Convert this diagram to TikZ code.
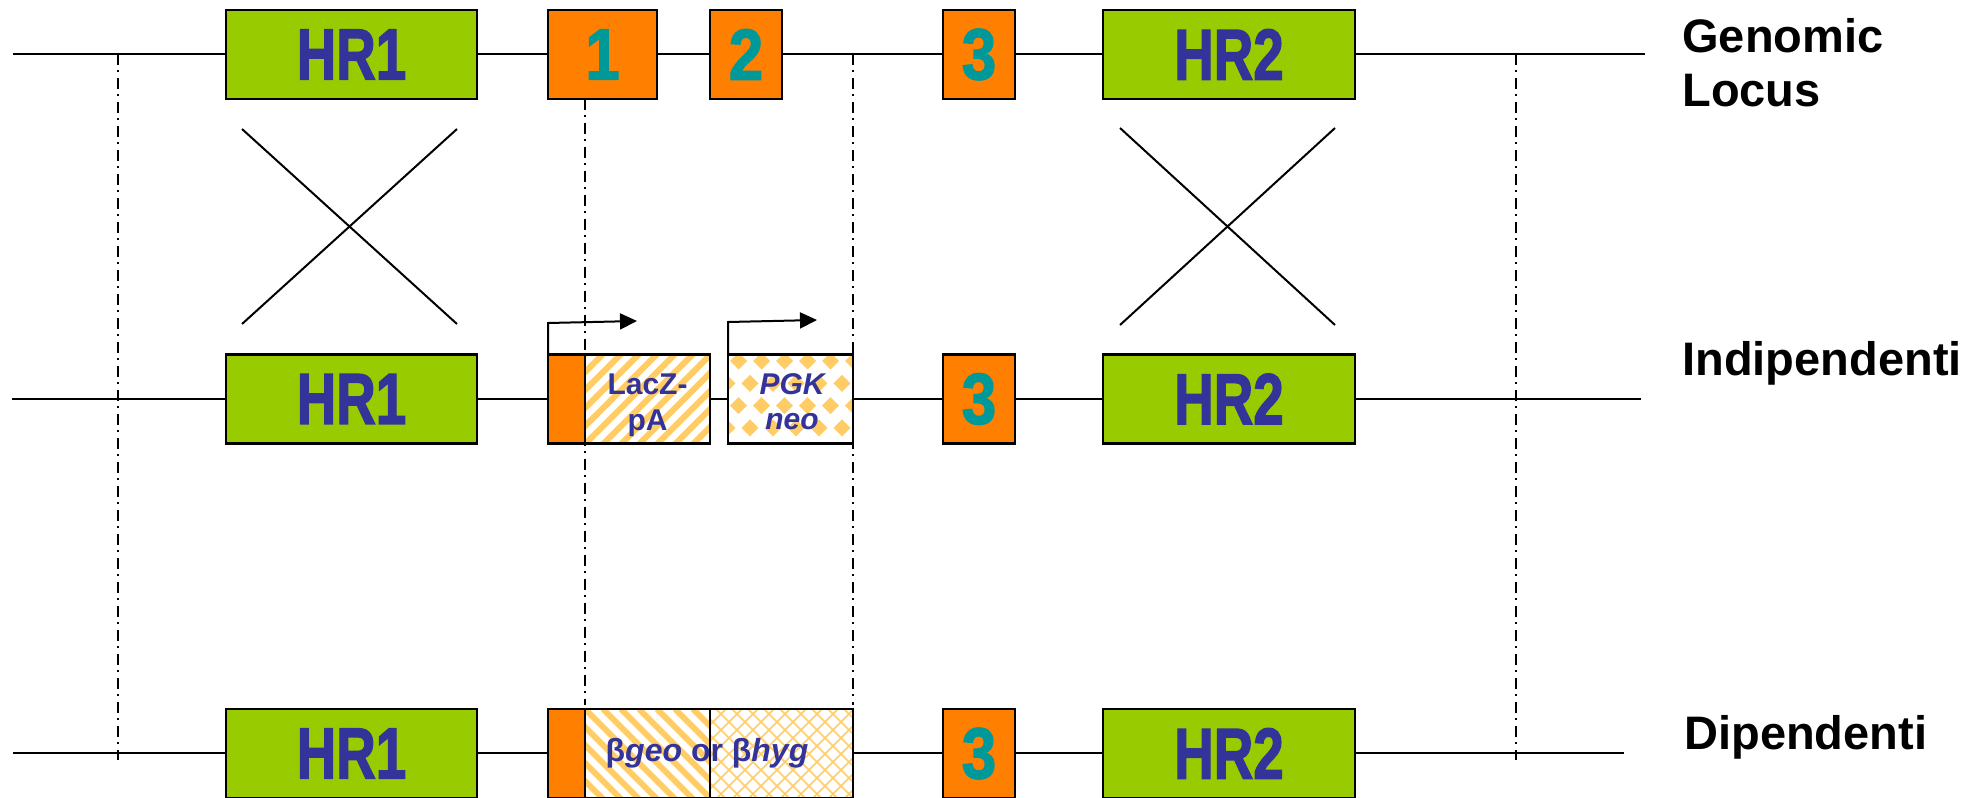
\documentclass[tikz,border=0pt]{standalone}
\usepackage{fontspec}
\usepackage{graphicx}
\setmainfont{Liberation Sans}
\newfontface\heavyface{Liberation Sans Bold}[FakeBold=2.2]
\usetikzlibrary{arrows.meta}

\definecolor{hrgreen}{HTML}{99CC00}
\definecolor{exorange}{HTML}{FF8000}
\definecolor{exteal}{HTML}{009999}
\definecolor{navy}{HTML}{333399}
\definecolor{hatchor}{HTML}{FFCC66}

\newcommand\bigfont{\heavyface\fontsize{36pt}{36pt}\selectfont}
\newcommand\hrtext[1]{\scalebox{0.76}[1]{#1}}
\newcommand\extext[1]{\scalebox{0.86}[1]{#1}}

\begin{document}
\begin{tikzpicture}[x=0.5pt,y=-0.5pt,
  box/.style={draw=black, line width=1.1pt, inner sep=0pt, outer sep=0pt, minimum height=44.5pt},
  hrbox/.style={box, fill=hrgreen, minimum width=125.5pt, text=navy, font=\bigfont},
  exbox/.style={box, fill=exorange, text=exteal, font=\bigfont},
  cassette/.style={box, fill=white},
  locus/.style={line width=1.2pt},
  xover/.style={line width=1pt},
  ddot/.style={line width=1pt, dash pattern=on 5.5pt off 2.5pt on 1pt off 3pt},
  promoter/.style={line width=1pt, -{Triangle[length=8.5pt,width=8pt]}},
  rowlabel/.style={anchor=base west, inner sep=0pt, font=\fontsize{23.5pt}{26pt}\selectfont\bfseries},
  cassettelabel/.style={anchor=base, inner sep=0pt, text=navy, font=\fontsize{15pt}{18pt}\selectfont\bfseries},
  stripe/.style={hatchor, line width=3pt},
  thinhatch/.style={hatchor, line width=0.8pt},
]
\useasboundingbox (0,0) rectangle (1984,797);

% ---- backbone lines ----
\coordinate (r1s) at (13,54);   \coordinate (r1e) at (1645,54);
\coordinate (r2s) at (12,399);  \coordinate (r2e) at (1641,399);
\coordinate (r3s) at (13,753);  \coordinate (r3e) at (1624,753);
\draw[locus] (r1s) -- (r1e);
\draw[locus] (r2s) -- (r2e);
\draw[locus] (r3s) -- (r3e);

% ---- alignment guides ----
\coordinate (g1t) at (118,54);  \coordinate (g1b) at (118,760);
\coordinate (g2t) at (585,99);  \coordinate (g2b) at (585,705);
\coordinate (g3t) at (853,54);  \coordinate (g3b) at (853,705);
\coordinate (g4t) at (1516,54); \coordinate (g4b) at (1516,760);
\draw[ddot] (g1t) -- (g1b);
\draw[ddot] (g2t) -- (g2b);
\draw[ddot] (g3t) -- (g3b);
\draw[ddot] (g4t) -- (g4b);

% ---- genomic locus ----
\node[hrbox] (hr1a) at (351.5,54.5) {\hrtext{HR1}};
\node[exbox, minimum width=54.5pt] (e1a) at (602.5,54.5) {\extext{1}};
\node[exbox, minimum width=36pt] (e2a) at (746,54.5) {\extext{2}};
\node[exbox, minimum width=36pt] (e3a) at (979,54.5) {\extext{3}};
\node[hrbox, minimum width=126pt] (hr2a) at (1229,54.5) {\hrtext{HR2}};

% ---- crossover marks ----
\coordinate (x1a) at (242,129);  \coordinate (x1b) at (457,324);
\coordinate (x1c) at (457,129);  \coordinate (x1d) at (242,324);
\coordinate (x2a) at (1120,128); \coordinate (x2b) at (1335,325);
\coordinate (x2c) at (1335,128); \coordinate (x2d) at (1120,325);
\draw[xover] (x1a) -- (x1b);
\draw[xover] (x1c) -- (x1d);
\draw[xover] (x2a) -- (x2b);
\draw[xover] (x2c) -- (x2d);

% ---- independent cassettes ----
\node[hrbox] (hr1b) at (351.5,399) {\hrtext{HR1}};
\node[exbox, minimum width=18.5pt] (e1b) at (566.5,399) {};
\node[cassette, minimum width=62.5pt] (lz) at (647.5,399) {};
\node[cassette, minimum width=62.5pt] (pgk) at (790.5,399) {};
\node[exbox, minimum width=36pt] (e3b) at (979,399) {\extext{3}};
\node[hrbox, minimum width=126pt] (hr2b) at (1229,399) {\hrtext{HR2}};

\begin{scope}
  \clip (lz.south west) rectangle (lz.north east);
  \foreach \x in {477,495,...,711} \draw[stripe] (\x,444) -- ++(90,-90);
\end{scope}
\begin{scope}
  \clip (pgk.south west) rectangle (pgk.north east);
  \foreach \j in {0,...,4} {
    \pgfmathsetmacro\off{11.5*(1-mod(\j,2))}
    \foreach \i in {-1,...,6} {
      \pgfmathsetmacro\cx{727+\off+23*\i}
      \pgfmathsetmacro\cy{361+22.3*\j}
      \fill[hatchor] (\cx,\cy) +(-8.5,0) -- +(0,-8.5) -- +(8.5,0) -- +(0,8.5) -- cycle;
    }
  }
\end{scope}
\draw[line width=1.1pt] (lz.south west) rectangle (lz.north east);
\draw[line width=1.1pt] (pgk.south west) rectangle (pgk.north east);

\node[cassettelabel] (lzl1) at (647.5,394) {LacZ-};
\node[cassettelabel] (lzl2) at (647.5,430) {pA};
\node[cassettelabel] (pgkl1) at (792,394) {\itshape PGK};
\node[cassettelabel] (pgkl2) at (792,429) {\itshape neo};

\coordinate (p1k) at (548,323); \coordinate (p1e) at (637,321);
\coordinate (p2k) at (728,322); \coordinate (p2e) at (817,320);
\draw[promoter] (e1b.north west) -- (p1k) -- (p1e);
\draw[promoter] (pgk.north west) -- (p2k) -- (p2e);

% ---- dependent fusion cassette ----
\node[hrbox] (hr1c) at (351.5,753.5) {\hrtext{HR1}};
\node[exbox, minimum width=18.5pt] (e1c) at (566.5,753.5) {};
\node[cassette, minimum width=62.5pt] (bg) at (647.5,753.5) {};
\node[cassette, minimum width=71.5pt] (bh) at (781.5,753.5) {};
\node[exbox, minimum width=36pt] (e3c) at (979,753.5) {\extext{3}};
\node[hrbox, minimum width=126pt] (hr2c) at (1229,753.5) {\hrtext{HR2}};

\begin{scope}
  \clip (bg.south west) rectangle (bg.north east);
  \foreach \x in {477,495,...,711} \draw[stripe] (\x,709) -- ++(90,90);
\end{scope}
\begin{scope}
  \clip (bh.south west) rectangle (bh.north east);
  \foreach \x in {604,620,...,860} {
    \draw[thinhatch] (\x,709) -- ++(90,90);
    \draw[thinhatch] (\x,799) -- ++(90,-90);
  }
\end{scope}
\draw[line width=1.1pt] (bg.south west) rectangle (bg.north east);
\draw[line width=1.1pt] (bh.south west) rectangle (bh.north east);

\node[cassettelabel, font=\fontsize{16pt}{18pt}\selectfont\bfseries] (bgl) at (707,761) {β\textit{geo} or β\textit{hyg}};

% ---- row labels ----
\node[rowlabel] (lab1) at (1682,53) {Genomic};
\node[rowlabel] (lab1b) at (1682,106) {Locus};
\node[rowlabel] (lab2) at (1682,375) {Indipendenti};
\node[rowlabel] (lab3) at (1684,749) {Dipendenti};
\end{tikzpicture}
\end{document}
